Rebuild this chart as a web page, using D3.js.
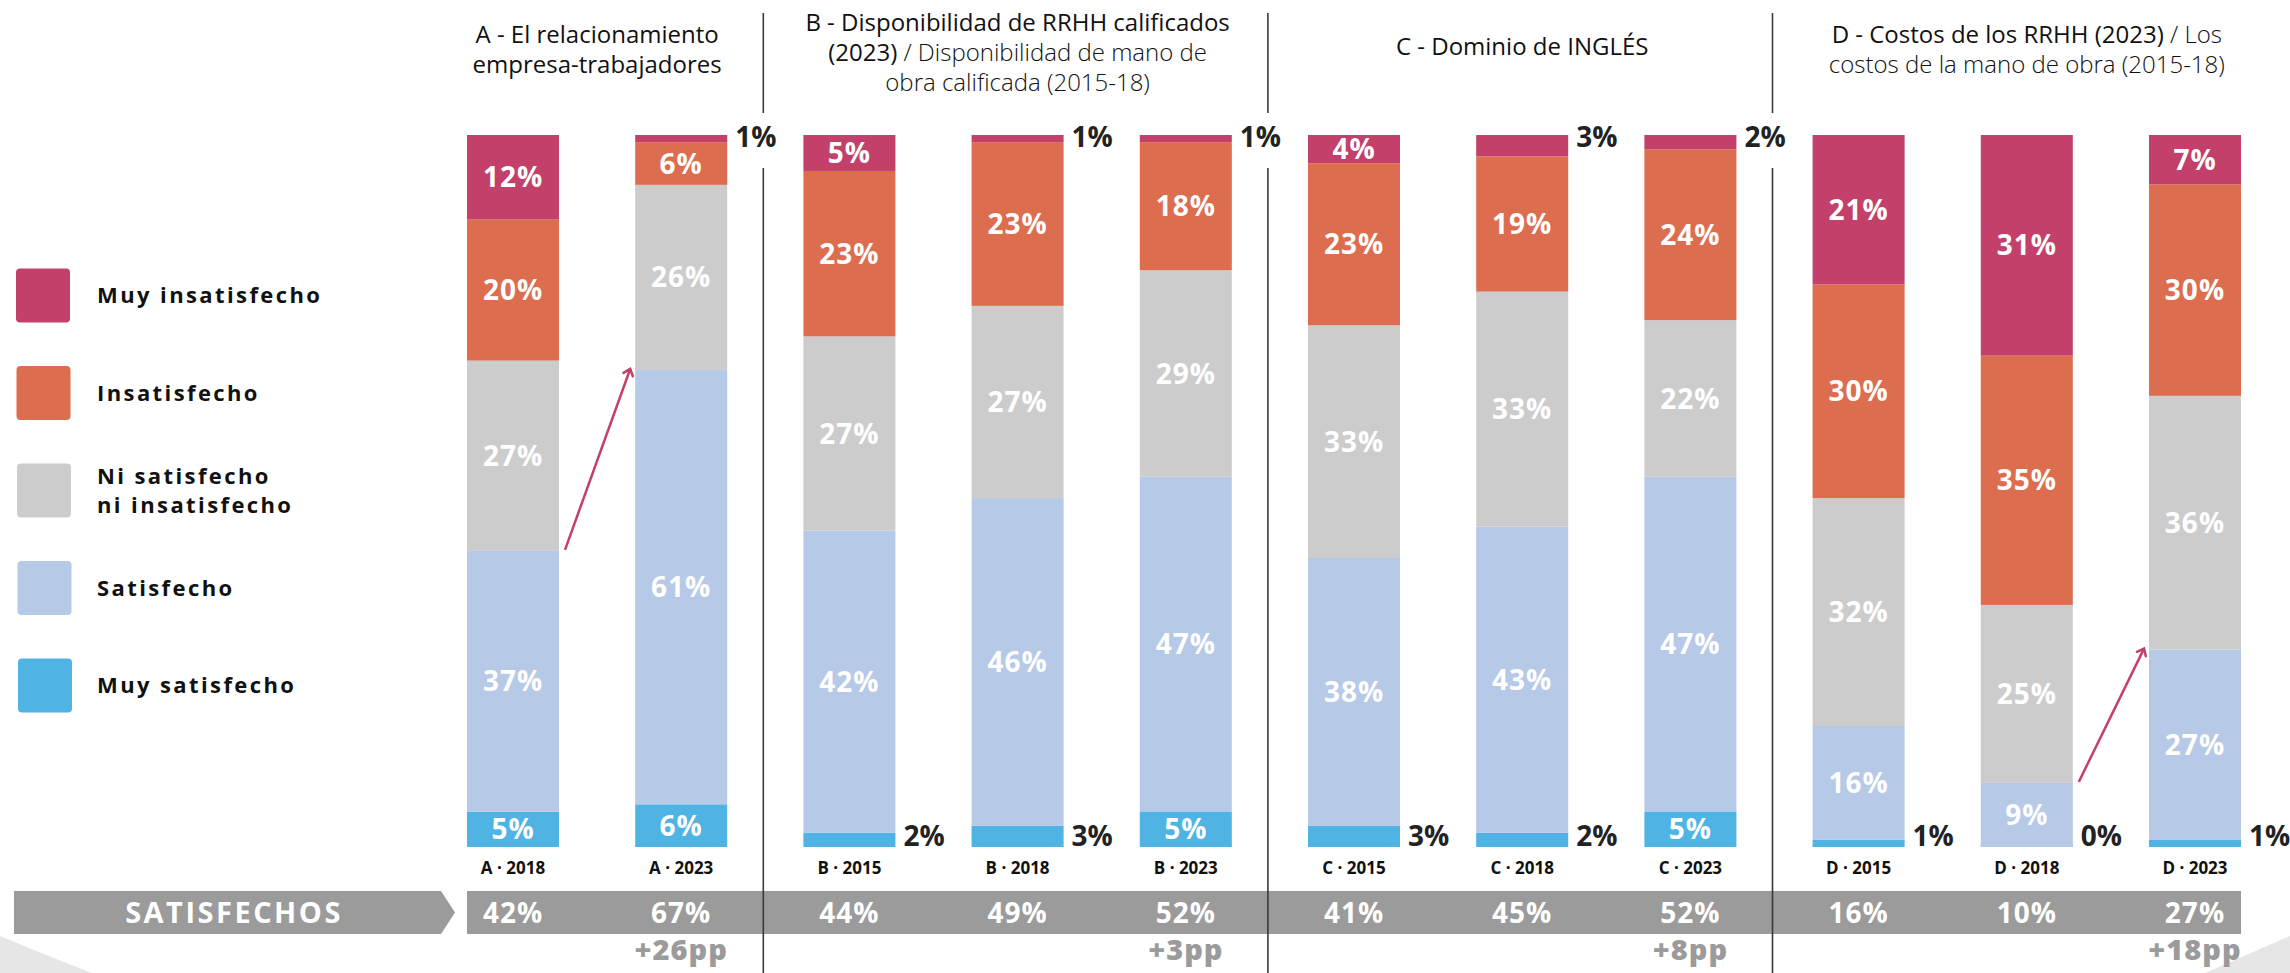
<!DOCTYPE html>
<html>
<head>
<meta charset="utf-8">
<script src="https://cdn.jsdelivr.net/npm/d3@7"></script>
<style>
  html, body { margin: 0; padding: 0; background: #fff; }
  svg { display: block; }
  text { font-family: 'Open Sans', sans-serif; }
</style>
</head>
<body>
<svg id="chart" width="2290" height="973"></svg>
<script>
/** --- DATA --- */

const categories = ['A · 2018', 'A · 2023', 'B · 2015', 'B · 2018', 'B · 2023',
  'C · 2015', 'C · 2018', 'C · 2023', 'D · 2015', 'D · 2018', 'D · 2023'];
const groupOf = ['A', 'A', 'B', 'B', 'B', 'C', 'C', 'C', 'D', 'D', 'D'];

// stacked from the bottom up
const keys = ['muySat', 'sat', 'ni', 'insat', 'muyInsat'];
const muySatisfecho   = [5, 6, 2, 3, 5, 3, 2, 5, 1, 0, 1];
const satisfecho      = [37, 61, 42, 46, 47, 38, 43, 47, 16, 9, 27];
const niNi            = [27, 26, 27, 27, 29, 33, 33, 22, 32, 25, 36];
const insatisfecho    = [20, 6, 23, 23, 18, 23, 19, 24, 30, 35, 30];
const muyInsatisfecho = [12, 1, 5, 1, 1, 4, 3, 2, 21, 31, 7];

const satisfechos = [42, 67, 44, 49, 52, 41, 45, 52, 16, 10, 27];
const deltaCats = ['A · 2023', 'B · 2023', 'C · 2023', 'D · 2023'];
const deltaLabels = ['+26pp', '+3pp', '+8pp', '+18pp'];
const arrowPairs = [['A · 2018', 'A · 2023'], ['D · 2018', 'D · 2023']];

const legendKeys = ['muyInsat', 'insat', 'ni', 'sat', 'muySat'];
const legendLabels = [['Muy insatisfecho'], ['Insatisfecho'], ['Ni satisfecho', 'ni insatisfecho'], ['Satisfecho'], ['Muy satisfecho']];
const colors = ['#4fb3e4', '#b6c9e7', '#cdcccd', '#dc6d4e', '#c2406a'];

const groupNames = ['A', 'B', 'C', 'D'];
// each title: lines of [text, weight] runs
const titles = [
  [[['A - El relacionamiento', 500]], [['empresa-trabajadores', 500]]],
  [[['B - Disponibilidad de RRHH calificados', 500]], [['(2023)', 500], [' / Disponibilidad de mano de', 300]], [['obra calificada (2015-18)', 300]]],
  [[['C - Dominio de INGLÉS', 500]]],
  [[['D - Costos de los RRHH (2023)', 500], [' / Los', 300]], [['costos de la mano de obra (2015-18)', 300]]]
];

/** --- DIMENSIONS --- */

const svg = d3.select('#chart');
const barTop = 135;
const barBottom = 847;

const rows = categories.map((c, i) => ({
  cat: c,
  muySat: muySatisfecho[i],
  sat: satisfecho[i],
  ni: niNi[i],
  insat: insatisfecho[i],
  muyInsat: muyInsatisfecho[i]
}));

/** --- SCALES --- */

const x = d3.scaleBand()
  .domain(categories)
  .range([467, 2241])
  .paddingInner(0.453)
  .paddingOuter(0);
const bw = x.bandwidth();

const y = d3.scaleLinear()
  .domain([0, 1])
  .range([barBottom, barTop]);

const color = d3.scaleOrdinal()
  .domain(keys)
  .range(colors);

const stack = d3.stack()
  .keys(keys)
  .offset(d3.stackOffsetExpand);
const series = stack(rows);

/** --- DECORATION (page corners) --- */

svg.append('path')
  .attr('d', 'M0,936 Q45,955 92,973 L0,973 Z')
  .attr('fill', '#e6e6e6');
svg.append('path')
  .attr('d', 'M2205,973 L2290,936 L2290,973 Z')
  .attr('fill', '#e6e6e6');

/** --- BARS --- */

const layers = svg.append('g').selectAll('g')
  .data(series)
  .join('g')
  .attr('fill', d => color(d.key));

layers.selectAll('rect')
  .data(d => d)
  .join('rect')
  .attr('x', d => x(d.data.cat))
  .attr('width', bw)
  .attr('y', d => {
    const h = y(d[0]) - y(d[1]);
    return h < 3 ? y(d[0]) - 3 : y(d[1]);
  })
  .attr('height', d => Math.max(3, y(d[0]) - y(d[1])));

// segment labels
const labels = svg.append('g')
  .attr('font-weight', 700)
  .attr('font-size', 28);

series.forEach(s => {
  s.forEach(d => {
    const v = d.data[s.key];
    const x0 = x(d.data.cat);
    if (v > 3) {
      labels.append('text')
        .attr('x', x0 + bw / 2)
        .attr('y', (y(d[0]) + y(d[1])) / 2)
        .attr('dy', '0.36em')
        .attr('text-anchor', 'middle')
        .attr('fill', '#fff')
        .attr('letter-spacing', 1)
        .text(v + '%');
    } else {
      const isBottom = s.key === 'muySat';
      labels.append('text')
        .attr('x', x0 + bw + 8)
        .attr('y', isBottom ? barBottom - 1 : barTop + 2)
        .attr('dy', isBottom ? '0' : '0.36em')
        .attr('fill', '#222')
        .text(v + '%');
    }
  });
});

/** --- ARROWS --- */

svg.append('defs').append('marker')
  .attr('id', 'head')
  .attr('markerUnits', 'userSpaceOnUse')
  .attr('viewBox', '-10 -10 20 20')
  .attr('markerWidth', 20)
  .attr('markerHeight', 20)
  .attr('orient', 'auto')
  .append('path')
  .attr('d', 'M-6,-5 L0,0 L-6,5')
  .attr('fill', 'none')
  .attr('stroke', '#c2406a')
  .attr('stroke-width', 2.5)
  .attr('stroke-linecap', 'round');

const satTop = cat => {
  const i = categories.indexOf(cat);
  return y(series[1][i][1]);
};

svg.append('g').selectAll('line')
  .data(arrowPairs)
  .join('line')
  .attr('x1', d => x(d[0]) + bw + 6)
  .attr('y1', d => satTop(d[0]) - 1)
  .attr('x2', d => x(d[1]) - 5)
  .attr('y2', d => satTop(d[1]) - 1)
  .attr('stroke', '#c2406a')
  .attr('stroke-width', 2.5)
  .attr('marker-end', 'url(#head)');

/** --- SEPARATORS --- */

const sepX = [];
for (let i = 1; i < categories.length; i++) {
  if (groupOf[i] !== groupOf[i - 1]) {
    sepX.push(x(categories[i - 1]) + bw + (x.step() - bw) / 2 - 2);
  }
}
const seps = svg.append('g')
  .attr('stroke', '#3a3a3a')
  .attr('stroke-width', 1.6);
sepX.forEach(sx => {
  seps.append('line').attr('x1', sx).attr('x2', sx).attr('y1', 13).attr('y2', 113);
  seps.append('line').attr('x1', sx).attr('x2', sx).attr('y1', 168).attr('y2', 973);
});

/** --- TITLES --- */

groupNames.forEach((g, gi) => {
  const cats = categories.filter((c, i) => groupOf[i] === g);
  const cx = (x(cats[0]) + x(cats[cats.length - 1]) + bw) / 2;
  const lines = titles[gi];
  const lh = 30;
  const midY = lines.length === 1 ? 47 : (lines.length === 2 ? 50 : 53);
  lines.forEach((runs, li) => {
    const t = svg.append('text')
      .attr('x', cx)
      .attr('y', midY + (li - (lines.length - 1) / 2) * lh)
      .attr('dy', '0.35em')
      .attr('text-anchor', 'middle')
      .attr('font-family', 'Roboto, sans-serif')
      .attr('font-size', 24)
      .attr('fill', '#111');
    runs.forEach(r => {
      t.append('tspan')
        .attr('font-weight', r[1])
        .text(r[0]);
    });
  });
});

/** --- CATEGORY LABELS --- */

svg.append('g').selectAll('text')
  .data(categories)
  .join('text')
  .attr('x', d => x(d) + bw / 2)
  .attr('y', 868)
  .attr('dy', '0.36em')
  .attr('text-anchor', 'middle')
  .attr('font-size', 17)
  .attr('font-weight', 700)
  .attr('fill', '#111')
  .text(d => d);

/** --- SATISFECHOS BAND --- */

const bandTop = 891;
const bandBottom = 934;
const bandMid = (bandTop + bandBottom) / 2;

svg.append('path')
  .attr('d', `M14,${bandTop} L441,${bandTop} L455,${bandMid} L441,${bandBottom} L14,${bandBottom} Z`)
  .attr('fill', '#9b9b9b');
svg.append('rect')
  .attr('x', x.range()[0])
  .attr('y', bandTop)
  .attr('width', x.range()[1] - x.range()[0])
  .attr('height', bandBottom - bandTop)
  .attr('fill', '#9b9b9b');

// separators should show over the band
sepX.forEach(sx => {
  svg.append('line').attr('x1', sx).attr('x2', sx).attr('y1', bandTop).attr('y2', bandBottom)
    .attr('stroke', '#3a3a3a').attr('stroke-width', 1.6);
});

svg.append('text')
  .attr('x', 234)
  .attr('y', bandMid)
  .attr('dy', '0.36em')
  .attr('text-anchor', 'middle')
  .attr('font-size', 29)
  .attr('font-weight', 700)
  .attr('letter-spacing', 2.5)
  .attr('fill', '#fff')
  .text('SATISFECHOS');

svg.append('g').selectAll('text')
  .data(satisfechos)
  .join('text')
  .attr('x', (d, i) => x(categories[i]) + bw / 2)
  .attr('y', bandMid)
  .attr('dy', '0.36em')
  .attr('text-anchor', 'middle')
  .attr('font-size', 28)
  .attr('font-weight', 700)
  .attr('letter-spacing', 1)
  .attr('fill', '#fff')
  .text(d => d + '%');

svg.append('g').selectAll('text')
  .data(deltaLabels)
  .join('text')
  .attr('x', (d, i) => x(deltaCats[i]) + bw / 2)
  .attr('y', 950)
  .attr('dy', '0.36em')
  .attr('text-anchor', 'middle')
  .attr('font-size', 29)
  .attr('font-weight', 800)
  .attr('letter-spacing', 1)
  .attr('fill', '#9b9b9b')
  .text(d => d);

/** --- LEGEND --- */

const legend = svg.append('g');
legendKeys.forEach((k, i) => {
  const cy = 295.5 + i * 97.5;
  legend.append('rect')
    .attr('x', 16 + i * 0.5)
    .attr('y', cy - 27)
    .attr('width', 54)
    .attr('height', 54)
    .attr('rx', 4)
    .attr('fill', color(k));
  const lines = legendLabels[i];
  lines.forEach((l, li) => {
    legend.append('text')
      .attr('x', 97)
      .attr('y', cy + (li - (lines.length - 1) / 2) * 29)
      .attr('dy', '0.36em')
      .attr('font-size', 22)
      .attr('font-weight', 700)
      .attr('letter-spacing', 2.4)
      .attr('fill', '#111')
      .text(l);
  });
});
</script>
</body>
</html>
